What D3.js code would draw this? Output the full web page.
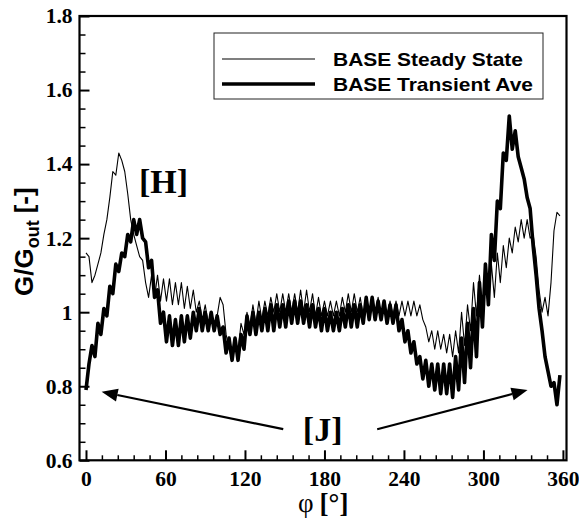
<!DOCTYPE html>
<html><head><meta charset="utf-8">
<script src="https://cdn.jsdelivr.net/npm/d3@7"></script>
<style>body{margin:0;background:#fff}svg{display:block}</style>
</head><body><svg id="c" width="579" height="519"></svg>
<script>
// angular step between samples (deg)
const phiStep = 2.25;
const steadyState = [
1.16,1.15,1.08,1.10,1.13,1.16,1.21,1.25,1.31,1.38,
1.37,1.43,1.41,1.38,1.32,1.25,1.21,1.18,1.15,1.14,
1.08,1.04,1.10,1.04,1.10,1.03,1.09,1.03,1.09,1.02,
1.08,1.02,1.08,1.01,1.07,1.01,1.06,1.00,1.03,0.98,
1.02,0.97,1.00,0.97,0.99,1.04,1.02,0.94,0.90,0.87,
0.93,0.89,0.97,0.94,1.00,0.96,1.02,0.97,1.03,0.98,
1.03,0.99,1.04,1.00,1.05,1.00,1.05,1.00,1.05,1.00,
1.05,1.00,1.06,1.00,1.06,1.00,1.05,0.99,1.04,0.99,
1.03,0.99,1.03,0.99,1.03,0.99,1.04,1.00,1.05,1.00,
1.05,1.00,1.04,0.99,1.04,0.99,1.04,0.99,1.04,0.99,
1.03,0.99,1.03,0.99,1.03,0.99,1.03,0.99,1.03,0.99,
1.03,0.99,1.02,0.98,0.96,0.92,0.95,0.90,0.95,0.90,
0.94,0.89,0.94,0.88,0.95,0.89,1.00,0.91,1.02,0.95,
1.08,0.99,1.10,1.01,1.11,1.02,1.13,1.04,1.16,1.08,
1.18,1.12,1.20,1.16,1.23,1.19,1.25,1.20,1.25,1.20,
1.21,1.15,1.06,1.00,1.04,0.99,1.08,1.22,1.27,1.26];
const transientAve = [
0.79,0.86,0.91,0.88,0.97,0.94,1.01,0.99,1.07,1.05,
1.13,1.11,1.16,1.15,1.21,1.19,1.25,1.21,1.25,1.20,
1.19,1.12,1.14,1.04,1.06,0.97,1.00,0.92,0.99,0.91,
0.98,0.91,0.99,0.92,0.99,0.93,1.00,0.95,1.01,0.95,
1.00,0.95,1.00,0.95,0.99,0.94,0.96,0.89,0.93,0.87,
0.93,0.87,0.94,0.90,0.99,0.94,1.00,0.94,1.00,0.95,
1.01,0.95,1.02,0.95,1.02,0.96,1.02,0.96,1.03,0.97,
1.03,0.97,1.03,0.97,1.02,0.96,1.02,0.96,1.01,0.95,
1.01,0.95,1.00,0.95,1.00,0.95,1.01,0.96,1.02,0.96,
1.02,0.96,1.02,0.97,1.04,0.98,1.04,0.98,1.03,0.98,
1.03,0.97,1.02,0.97,1.02,0.95,0.98,0.92,0.95,0.89,
0.92,0.86,0.88,0.82,0.87,0.80,0.86,0.79,0.86,0.78,
0.86,0.78,0.86,0.77,0.88,0.79,0.93,0.81,0.97,0.85,
1.01,0.88,1.08,0.96,1.13,1.02,1.21,1.14,1.30,1.28,
1.43,1.41,1.53,1.44,1.49,1.42,1.39,1.36,1.31,1.28,
1.18,1.10,1.01,0.95,0.88,0.84,0.80,0.81,0.75,0.83];
const xTickValues = [0,60,120,180,240,300,360];
const xTickLabels = ["0","60","120","180","240","300","360"];
const yTickValues = [0.6,0.8,1.0,1.2,1.4,1.6,1.8];
const yTickLabels = ["0.6","0.8","1","1.2","1.4","1.6","1.8"];
const seriesNames = ["BASE Steady State","BASE Transient Ave"];
const annotationLabels = ["[H]","[J]"];

const svg = d3.select("#c");
const x = d3.scaleLinear().domain([-4.9, 362.7]).range([79.5, 566.5]);
const y = d3.scaleLinear().domain([0.6, 1.8]).range([460.3, 16]);
const serif = "'Liberation Serif','Times New Roman',serif";
const sans = "'Liberation Sans',Arial,Helvetica,sans-serif";

const toPts = arr => arr.map((v,i)=>[i*phiStep, v]);
const line = d3.line().x(d=>x(d[0])).y(d=>y(d[1]));

// minor ticks
const xMinor = d3.range(0, 361, 12).filter(v => v % 60 !== 0);
svg.append("g").attr("transform",`translate(0,${y(0.6)})`)
  .call(d3.axisBottom(x).tickValues(xMinor).tickSize(-5).tickFormat(""))
  .call(g=>g.select(".domain").remove())
  .selectAll("line").attr("stroke","#000").attr("stroke-width",1.5);
const yMinor = d3.range(0.6, 1.801, 0.05).filter(v => Math.abs(v*5 - Math.round(v*5)) > 1e-6);
svg.append("g").attr("transform",`translate(${x.range()[0]},0)`)
  .call(d3.axisLeft(y).tickValues(yMinor).tickSize(-6).tickFormat(""))
  .call(g=>g.select(".domain").remove())
  .selectAll("line").attr("stroke","#000").attr("stroke-width",1.5);

// major axes
const xAxis = svg.append("g").attr("transform",`translate(0,${y(0.6)})`)
  .call(d3.axisBottom(x).tickValues(xTickValues).tickSize(-10).tickPadding(10)
    .tickFormat((d,i)=>xTickLabels[i]));
xAxis.select(".domain").remove();
xAxis.selectAll("line").attr("stroke","#000").attr("stroke-width",2);
xAxis.selectAll("text").attr("font-family",serif).attr("font-weight","bold")
  .attr("font-size",21.5).attr("fill","#000");

const yAxis = svg.append("g").attr("transform",`translate(${x.range()[0]},0)`)
  .call(d3.axisLeft(y).tickValues(yTickValues).tickSize(-10).tickPadding(7)
    .tickFormat((d,i)=>yTickLabels[i]));
yAxis.select(".domain").remove();
yAxis.selectAll("line").attr("stroke","#000").attr("stroke-width",2);
yAxis.selectAll("text").attr("font-family",serif).attr("font-weight","bold")
  .attr("font-size",21.5).attr("fill","#000");

// series
svg.append("path").attr("d", line(toPts(steadyState)))
  .attr("fill","none").attr("stroke","#000").attr("stroke-width",1.1)
  .attr("stroke-linejoin","round");
svg.append("path").attr("d", line(toPts(transientAve)))
  .attr("fill","none").attr("stroke","#000").attr("stroke-width",3.6)
  .attr("stroke-linejoin","round");

// frame
svg.append("rect").attr("x",x.range()[0]).attr("y",y.range()[1])
  .attr("width",x.range()[1]-x.range()[0]).attr("height",y.range()[0]-y.range()[1])
  .attr("fill","none").attr("stroke","#000").attr("stroke-width",2.2);

// legend
const lg = svg.append("g");
lg.append("rect").attr("x",214).attr("y",33).attr("width",329).attr("height",66)
  .attr("fill","#fff").attr("stroke","#222").attr("stroke-width",1);
[1.1,3.6].forEach((w,i)=>{
  const ly = 59 + i*25;
  lg.append("line").attr("x1",222).attr("x2",315).attr("y1",ly).attr("y2",ly)
    .attr("stroke","#000").attr("stroke-width",w);
  lg.append("text").attr("x",333).attr("y",ly+7).text(seriesNames[i])
    .attr("font-family",sans).attr("font-weight","bold").attr("font-size",18.5)
    .attr("textLength", i===0?190:200).attr("lengthAdjust","spacingAndGlyphs")
    .attr("fill","#000");
});

// annotations
svg.append("text").attr("x",x(40)).attr("y",y(1.323)).text(annotationLabels[0])
  .attr("font-family",serif).attr("font-weight","bold").attr("font-size",34);
svg.append("text").attr("x",x(163.7)).attr("y",y(0.652)).text(annotationLabels[1])
  .attr("font-family",serif).attr("font-weight","bold").attr("font-size",34);

function arrow(p0, p1){
  const x0=x(p0[0]), y0=y(p0[1]), x1=x(p1[0]), y1=y(p1[1]);
  const a = Math.atan2(y1-y0, x1-x0), L=16, W=6.5;
  const bx = x1 - L*Math.cos(a), by = y1 - L*Math.sin(a);
  svg.append("line").attr("x1",x0).attr("y1",y0).attr("x2",bx).attr("y2",by)
    .attr("stroke","#000").attr("stroke-width",2.2);
  svg.append("path").attr("d",`M${x1},${y1}L${bx - W*Math.sin(a)},${by + W*Math.cos(a)}L${bx + W*Math.sin(a)},${by - W*Math.cos(a)}Z`)
    .attr("fill","#000");
}
arrow([148.9,0.684],[11.8,0.785]);
arrow([219.8,0.684],[333.3,0.79]);

// axis titles
const yt = svg.append("text").attr("transform","translate(33,296) rotate(-90)")
  .attr("font-family",sans).attr("font-weight","bold").attr("font-size",26).attr("fill","#000");
yt.append("tspan").text("G/G");
yt.append("tspan").attr("font-size",18).attr("dy",6).text("out");
yt.append("tspan").attr("dy",-6).attr("dx",7).text("[-]");

const xt = svg.append("text").attr("x",298).attr("y",512)
  .attr("font-family",serif).attr("font-size",27).attr("fill","#000");
xt.append("tspan").text("φ");
xt.append("tspan").attr("font-weight","bold").attr("dx",6).text("[°]");
</script></body></html>
